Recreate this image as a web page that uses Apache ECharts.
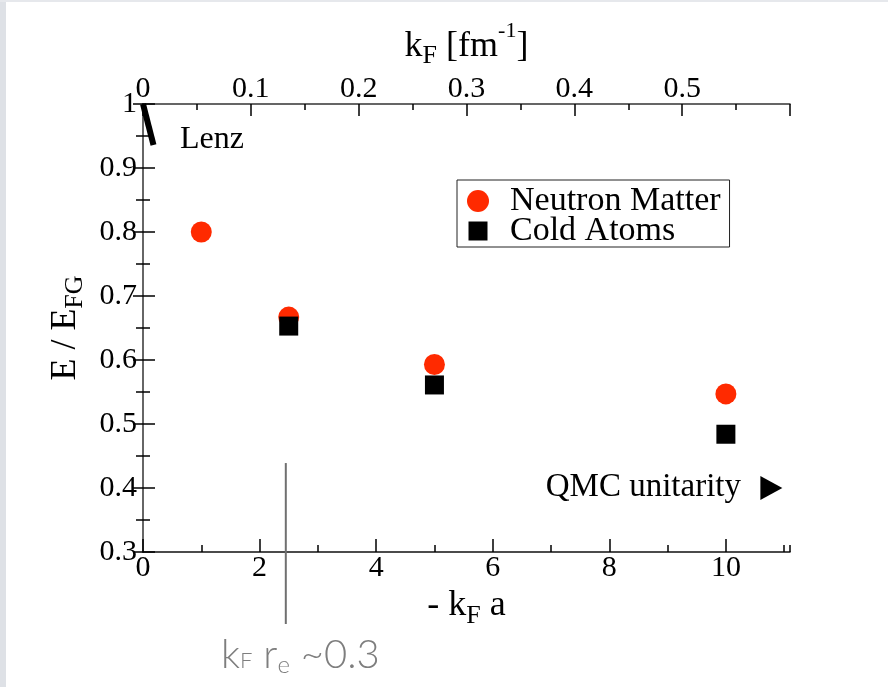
<!DOCTYPE html>
<html><head><meta charset="utf-8">
<script src="https://cdn.jsdelivr.net/npm/echarts@6/dist/echarts.min.js"></script>
<style>html,body{margin:0;padding:0;background:#fff}#c{width:888px;height:687px}</style>
</head><body><div id="c"></div>
<script>
// ---- data ----
const neutronX = [1, 2.5, 5, 10];
const neutronY = [0.8, 0.667, 0.593, 0.547];
const coldX = [2.5, 5, 10];
const coldY = [0.653, 0.561, 0.484];
const qmcX = [10.78];
const qmcY = [0.4];
const lenzX = [0, 0.18];
const lenzY = [1, 0.936];
const rangeLineX = [2.45, 2.45];
const rangeLineY = [0.439, 0.1875];
const bottomRange = [0, 11.1];
const topRange = [0, 0.6];
const yRange = [0.3, 1];
const seriesNames = ['Neutron Matter', 'Cold Atoms'];

const zip = (xs, ys) => xs.map((x, i) => [x, ys[i]]);
const SERIF = 'Liberation Serif';
const tickLbl = {fontFamily: SERIF, fontSize: 30, color: '#000'};
const legendText = {fontFamily: SERIF, fontSize: 34, color: '#000', padding: [0, 0, 0, 16]};

const chart = echarts.init(document.getElementById('c'));
chart.setOption({
  backgroundColor: '#fff',
  animation: false,
  grid: {left: 143, top: 104, right: 98, bottom: 135, containLabel: false},
  legend: [
    {data: [{name: seriesNames[0], icon: 'circle'}],
     orient: 'vertical', left: 457, top: 180,
     borderColor: '#222', borderWidth: 1, borderRadius: 0,
     padding: [4, 9, 29, 10], itemWidth: 22, itemHeight: 22, textStyle: legendText},
    {data: [{name: seriesNames[1], icon: 'path://M0,0M22,22M1.5,1.5H20.5V20.5H1.5Z'}],
     orient: 'vertical', left: 467, top: 214, padding: 0, borderWidth: 0,
     itemWidth: 22, itemHeight: 22, textStyle: legendText}
  ],
  xAxis: [
    {type: 'value', position: 'bottom', min: bottomRange[0], max: bottomRange[1], interval: 2,
     name: '{m|- k}{s|F}{m| a}', nameLocation: 'middle', nameGap: 32,
     nameTextStyle: {rich: {
       m: {fontFamily: SERIF, fontSize: 36, color: '#000', padding: [0, 0, 5, 0], verticalAlign: 'bottom'},
       s: {fontFamily: SERIF, fontSize: 26, color: '#000', verticalAlign: 'bottom'}}},
     axisLine: {lineStyle: {color: '#111', width: 1.5}},
     axisTick: {inside: true, length: 13, lineStyle: {color: '#000', width: 1.5}},
     minorTick: {show: false},
     splitLine: {show: false},
     axisLabel: Object.assign({margin: 1, showMaxLabel: false}, tickLbl)},
    {type: 'value', position: 'top', min: topRange[0], max: topRange[1], interval: 0.1,
     name: '{m|k}{s|F}{m| [fm}{p|-1}{m|]}', nameLocation: 'middle', nameGap: 26,
     nameTextStyle: {rich: {
       m: {fontFamily: SERIF, fontSize: 36, color: '#000', padding: [0, 0, 5, 0], verticalAlign: 'bottom'},
       s: {fontFamily: SERIF, fontSize: 26, color: '#000', verticalAlign: 'bottom'},
       p: {fontFamily: SERIF, fontSize: 22, color: '#000', padding: [0, 0, 27, 0], verticalAlign: 'bottom'}}},
     axisLine: {lineStyle: {color: '#333', width: 1.5}},
     axisTick: {inside: true, length: 12, lineStyle: {color: '#000', width: 1.5}},
     minorTick: {show: true, splitNumber: 2, length: 6, lineStyle: {color: '#000', width: 1.5}},
     splitLine: {show: false},
     axisLabel: Object.assign({margin: 0, showMaxLabel: false}, tickLbl)},
    {type: 'value', position: 'bottom', min: bottomRange[0], max: bottomRange[1], interval: 1,
     axisLine: {show: false},
     axisTick: {inside: true, length: 7, lineStyle: {color: '#000', width: 1.5}},
     axisLabel: {show: false}, splitLine: {show: false}}
  ],
  yAxis: [
    {type: 'value', position: 'left', min: yRange[0], max: yRange[1], interval: 0.1,
     name: '{m|E / E}{s|FG}', nameLocation: 'middle', nameGap: 47, nameRotate: 90,
     nameTextStyle: {rich: {
       m: {fontFamily: SERIF, fontSize: 36, color: '#000', padding: [0, 0, 5, 0], verticalAlign: 'bottom'},
       s: {fontFamily: SERIF, fontSize: 26, color: '#000', verticalAlign: 'bottom'}}},
     axisLine: {lineStyle: {color: '#111', width: 1.5}},
     axisTick: {inside: true, length: 12, lineStyle: {color: '#000', width: 1.5}},
     minorTick: {show: true, splitNumber: 2, length: 7, lineStyle: {color: '#000', width: 1.5}},
     splitLine: {show: false},
     axisLabel: Object.assign({margin: 6}, tickLbl)},
    {type: 'value', position: 'right', min: yRange[0], max: yRange[1], interval: 0.1,
     axisLine: {lineStyle: {color: '#666', width: 2}},
     axisTick: {inside: true, length: 10, lineStyle: {color: '#000', width: 1.5}},
     minorTick: {show: true, splitNumber: 2, length: 7, lineStyle: {color: '#000', width: 1.5}},
     splitLine: {show: false},
     axisLabel: {show: false}}
  ],
  series: [
    {type: 'line', name: 'Lenz', data: zip(lenzX, lenzY), showSymbol: false, symbol: 'none', clip: false,
     lineStyle: {color: '#000', width: 6}, z: 5, silent: true},
    {type: 'line', name: 'range', data: zip(rangeLineX, rangeLineY), showSymbol: false, symbol: 'none', clip: false,
     lineStyle: {color: '#707070', width: 2}, z: 1, silent: true},
    {type: 'scatter', name: seriesNames[0], data: zip(neutronX, neutronY), symbol: 'circle', symbolSize: 21,
     itemStyle: {color: '#ff2a00', opacity: 1}},
    {type: 'scatter', name: seriesNames[1], data: zip(coldX, coldY), symbol: 'rect', symbolSize: 19,
     itemStyle: {color: '#000', opacity: 1}},
    {type: 'scatter', name: 'QMC unitarity', data: zip(qmcX, qmcY), symbol: 'triangle', symbolSize: [24, 22],
     symbolRotate: -90, itemStyle: {color: '#000', opacity: 1}, clip: false}
  ],
  graphic: [
    {type: 'rect', left: 0, top: 0, shape: {width: 6, height: 687}, style: {fill: '#dee1e6'}, silent: true},
    {type: 'rect', left: 0, top: 0, shape: {width: 888, height: 2}, style: {fill: '#e6e8ec'}, silent: true},
    {type: 'text', x: 180, y: 140, style: {text: 'Lenz', fontFamily: SERIF, fontSize: 32, fill: '#000',
      align: 'left', verticalAlign: 'middle'}},
    {type: 'text', x: 741, y: 487, style: {text: 'QMC unitarity', fontFamily: SERIF, fontSize: 33, fill: '#000',
      align: 'right', verticalAlign: 'middle'}},
    {type: 'text', x: 221, y: 678, style: {
      text: '{m|k}{s|F}{m| r}{e|e}{m| ~0.3}', align: 'left', verticalAlign: 'bottom',
      rich: {
        m: {fontFamily: 'Lato', fontWeight: 300, fontSize: 40, fill: '#7e7e7e', color: '#7e7e7e', padding: [0, 0, 3, 0], verticalAlign: 'bottom'},
        s: {fontFamily: 'Lato', fontWeight: 300, fontSize: 22, fill: '#7e7e7e', color: '#7e7e7e', padding: [0, 0, 6, 0], verticalAlign: 'bottom'},
        e: {fontFamily: 'Lato', fontWeight: 300, fontSize: 24, fill: '#7e7e7e', color: '#7e7e7e', padding: [0, 0, 1, 0], verticalAlign: 'bottom'}
      }}}
  ]
});
</script>
</body></html>
